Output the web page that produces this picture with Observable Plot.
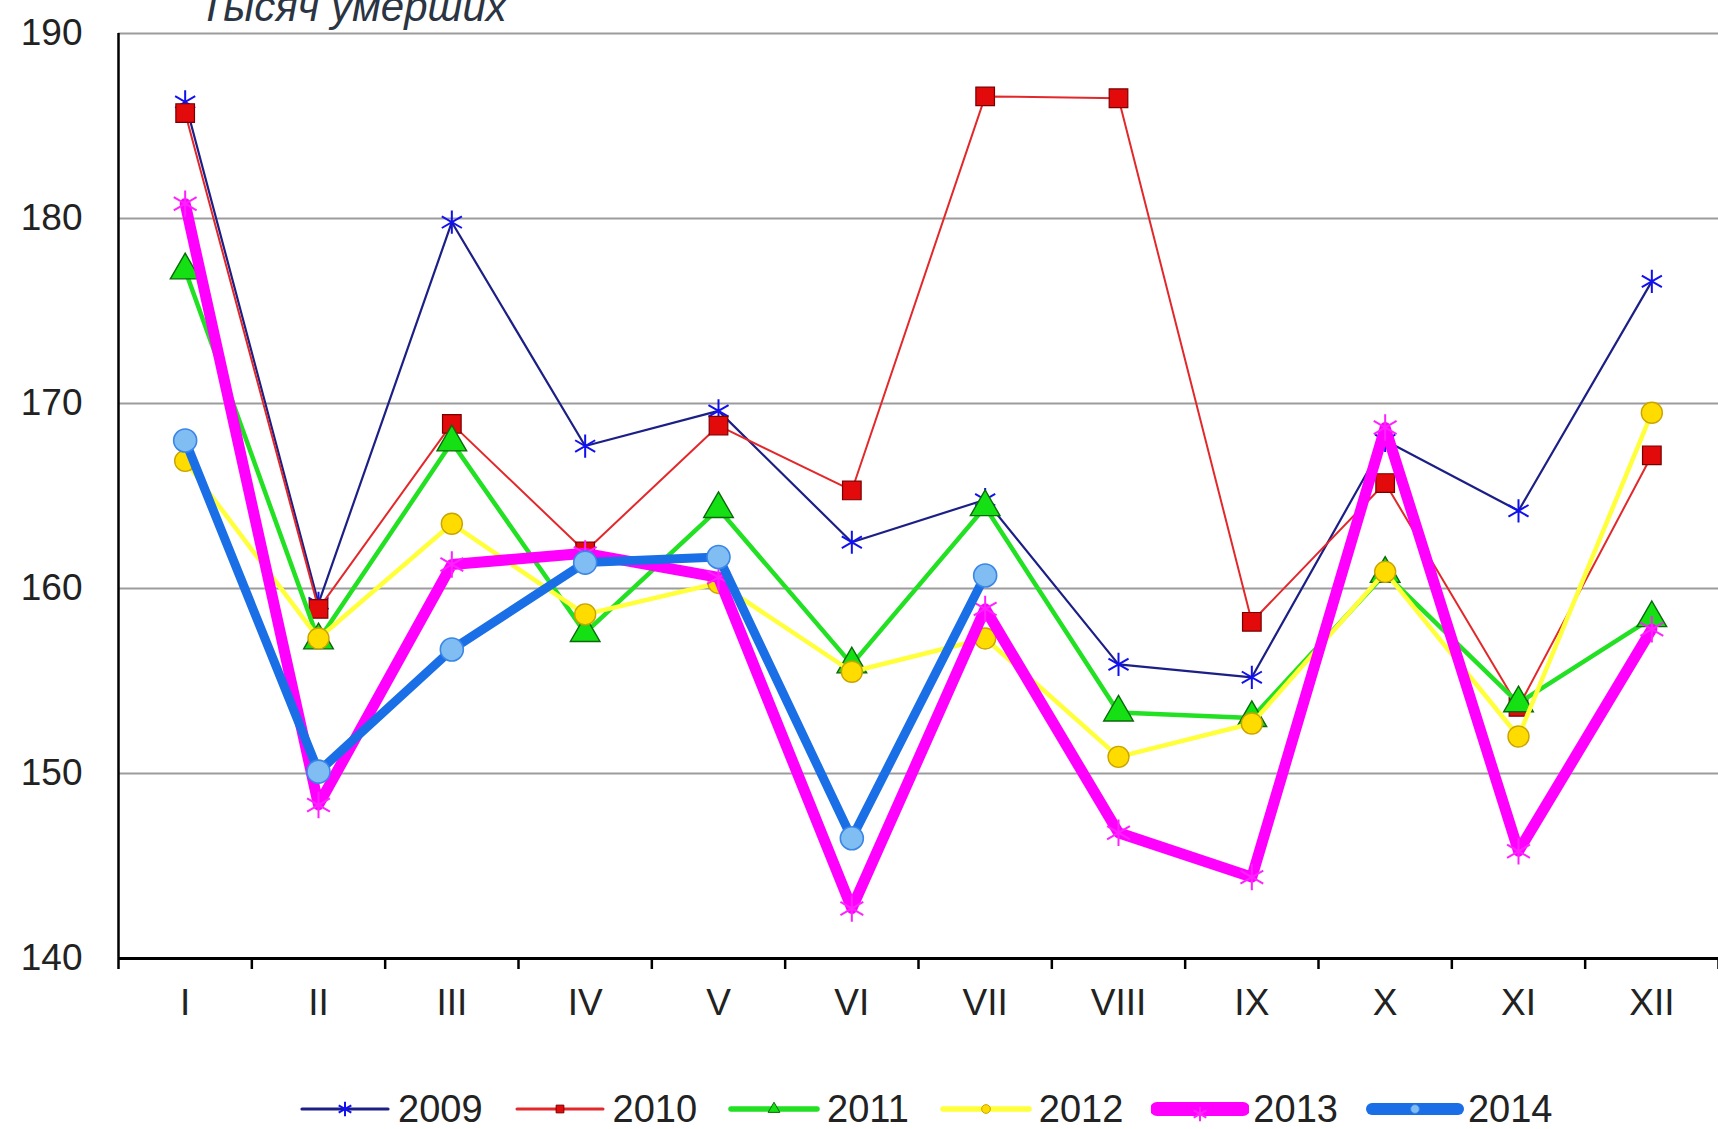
<!DOCTYPE html>
<html>
<head>
<meta charset="utf-8">
<script src="https://cdn.jsdelivr.net/npm/d3@7"></script>
<script src="https://cdn.jsdelivr.net/npm/@observablehq/plot@0.6"></script>
<style>
  body { margin: 0; background: #fff; font-family: "Liberation Sans", Arial, sans-serif; }
  #wrap { position: relative; width: 1718px; height: 1129px; overflow: hidden; background: #fff; }
  #legend { position: absolute; left: 296px; top: 1087px; height: 44px; display: flex; align-items: center; }
  .item { display: flex; align-items: center; margin-right: 28px; }
  .item span { font-size: 38px; color: #222; margin-left: 4px; line-height: 44px; }
</style>
</head>
<body>
<div id="wrap"></div>
<script>
// ---- data ----
const months = ["I", "II", "III", "IV", "V", "VI", "VII", "VIII", "IX", "X", "XI", "XII"];
const years = ["2009", "2010", "2011", "2012", "2013", "2014"];
const v2009 = [186.3, 159.2, 179.8, 167.7, 169.6, 162.5, 164.8, 155.9, 155.2, 168.0, 164.2, 176.6];
const v2010 = [185.7, 158.9, 168.9, 162.0, 168.8, 165.3, 186.6, 186.5, 158.2, 165.7, 153.6, 167.2];
const v2011 = [177.2, 157.2, 167.9, 157.6, 164.3, 155.9, 164.4, 153.3, 153.0, 160.8, 153.8, 158.4];
const v2012 = [166.9, 157.3, 163.5, 158.6, 160.3, 155.5, 157.3, 150.9, 152.7, 160.9, 152.0, 169.5];
const v2013 = [180.8, 148.3, 161.3, 161.9, 160.6, 142.7, 158.9, 146.8, 144.4, 168.7, 145.8, 157.8];
const v2014 = [168.0, 150.1, 156.7, 161.4, 161.7, 146.5, 160.7];
const yTicks = [140, 150, 160, 170, 180, 190];
const title = "Тысяч умерших";

// ---- styles (kept apart from data) ----
const styles = {
  "2009": { line: "#1c1f86", width: 2.2, symbol: "asterisk", fill: "none", mstroke: "#1010f0", r: 11, mw: 2 },
  "2010": { line: "#e3282b", width: 2, symbol: "square", fill: "#e20a0a", mstroke: "#7a0000", r: 10.5, mw: 1.2 },
  "2011": { line: "#22e022", width: 4.5, symbol: "triangle", fill: "#14e014", mstroke: "#0a6a0a", r: 11, mw: 1.4 },
  "2012": { line: "#ffff3a", width: 4.5, symbol: "circle", fill: "#ffdc00", mstroke: "#c9a400", r: 10.5, mw: 1.4 },
  "2013": { line: "#ff00ff", width: 11, symbol: "asterisk", fill: "none", mstroke: "#ff22ff", r: 12.5, mw: 2 },
  "2014": { line: "#1a6fe6", width: 9, symbol: "circle", fill: "#7fbdf2", mstroke: "#3a86e6", r: 11.5, mw: 1.6 }
};

const seriesValues = { "2009": v2009, "2010": v2010, "2011": v2011, "2012": v2012, "2013": v2013, "2014": v2014 };
const rows = years.map(y => seriesValues[y].map((v, i) => ({ year: y, m: i + 1, v })));

const marks = [
  Plot.gridY(yTicks.filter(t => t > 140), { stroke: "#9c9c9c", strokeOpacity: 1, strokeWidth: 2 }),
  Plot.axisY(yTicks, { tickSize: 0, tickPadding: 36, fill: "#222", fontSize: 37, label: null }),
  Plot.axisX(d3.range(1, 13), { tickSize: 0, tickPadding: 30, tickFormat: d => months[d - 1], fill: "#222", fontSize: 37, label: null }),
  Plot.axisX(d3.range(0.5, 13, 1), { tickSize: 11, tickFormat: () => "", stroke: "#000", strokeWidth: 2.5, label: null }),
  Plot.ruleX([0.5], { stroke: "#000", strokeWidth: 2.5 }),
  Plot.ruleY([140], { stroke: "#000", strokeWidth: 3 })
];
rows.forEach(data => {
  const s = styles[data[0].year];
  marks.push(Plot.line(data, { x: "m", y: "v", stroke: s.line, strokeWidth: s.width, strokeLinejoin: "round", strokeLinecap: "round" }));
  marks.push(Plot.dot(data, { x: "m", y: "v", symbol: () => s.symbol, r: s.r, fill: s.fill, stroke: s.mstroke, strokeWidth: s.mw }));
});

const chart = Plot.plot({
  width: 1718,
  height: 1060,
  marginLeft: 118,
  marginRight: 0,
  marginTop: 33,
  marginBottom: 102,
  style: { fontFamily: "'Liberation Sans', Arial, sans-serif", background: "#fff", overflow: "visible" },
  x: { type: "linear", domain: [0.5, 12.5], label: null },
  y: { domain: [140, 190], label: null },
  symbol: { type: "identity" },
  marks
});

d3.select(chart).append("text")
  .attr("x", 199).attr("y", 21)
  .attr("text-anchor", "start")
  .attr("font-style", "italic")
  .attr("font-size", 42)
  .attr("fill", "#2a3442")
  .text(title);

const wrap = document.getElementById("wrap");
wrap.appendChild(chart);

// ---- legend ----
const legend = d3.select(wrap).append("div").attr("id", "legend");
years.forEach(y => {
  const s = styles[y];
  const item = legend.append("div").attr("class", "item");
  const svg = item.append("svg").attr("width", 98).attr("height", 44);
  svg.append("line").attr("x1", 6).attr("x2", 92).attr("y1", 22).attr("y2", 22)
    .attr("stroke", s.line).attr("stroke-width", s.width < 5 ? s.width + 1 : s.width + 3).attr("stroke-linecap", "round");
  const symType = { asterisk: d3.symbolAsterisk, square: d3.symbolSquare, triangle: d3.symbolTriangle, circle: d3.symbolCircle }[s.symbol];
  const size = s.symbol === "asterisk" ? 150 : 60;
  svg.append("path").attr("d", d3.symbol(symType, size)())
    .attr("transform", `translate(49,${y === "2013" ? 27 : 22})`)
    .attr("fill", s.fill).attr("stroke", s.mstroke).attr("stroke-width", s.symbol === "asterisk" ? 2 : 1);
  item.append("span").text(y);
});
</script>
</body>
</html>
